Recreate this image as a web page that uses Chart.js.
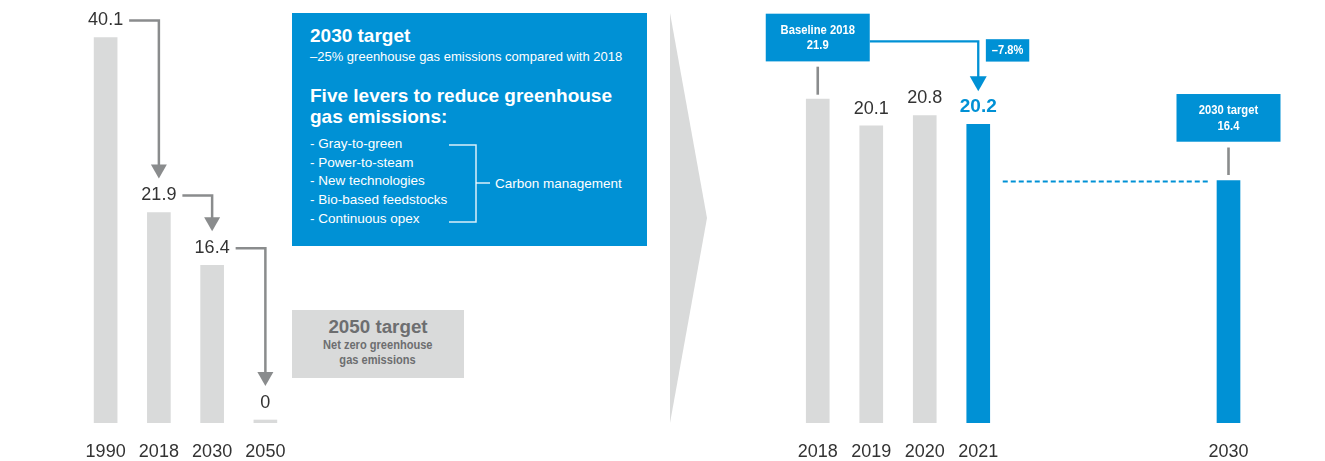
<!DOCTYPE html>
<html>
<head>
<meta charset="utf-8">
<script src="https://cdn.jsdelivr.net/npm/chart.js@4.4.1/dist/chart.umd.min.js"></script>
<style>
  body { margin: 0; width: 1325px; height: 461px; position: relative; overflow: hidden; background: #fff;
         font-family: 'Liberation Sans', Arial, Helvetica, sans-serif; }
  canvas { position: absolute; left: 0; top: 0; }
  .box { position: absolute; }
  .line { position: absolute; white-space: nowrap; line-height: 1; }
  #goal2030 { left: 292px; top: 13px; width: 355px; height: 233px; background: #0091d5; color: #fff; }
  #goal2050 { left: 292px; top: 310px; width: 172px; height: 68px; background: #d9dada; color: #6d6e70; }
  #goal2050 .line { left: 0; width: 100%; text-align: center; }
  .narrow { display: inline-block; transform: scaleX(0.82); font-weight: bold; }
  #chevron { position: absolute; left: 670px; top: 13px; width: 37px; height: 410px; background: #d9dada;
             clip-path: polygon(0 0, 100% 50%, 0 100%); }
</style>
</head>
<body>

<div id="goal2030" class="box">
  <div class="line" style="left:18px; top:12.6px; font-size:19px; font-weight:bold;">2030 target</div>
  <div class="line" style="left:18px; top:37px; font-size:13px;">–25% greenhouse gas emissions compared with 2018</div>
  <div class="line" style="left:18px; top:72.6px; font-size:19px; font-weight:bold;">Five levers to reduce greenhouse</div>
  <div class="line" style="left:18px; top:94px; font-size:19px; font-weight:bold;">gas emissions:</div>
  <div class="line" style="left:18px; top:124px; font-size:13.5px;">- Gray-to-green</div>
  <div class="line" style="left:18px; top:142.6px; font-size:13.5px;">- Power-to-steam</div>
  <div class="line" style="left:18px; top:161.3px; font-size:13.5px;">- New technologies</div>
  <div class="line" style="left:18px; top:179.8px; font-size:13.5px;">- Bio-based feedstocks</div>
  <div class="line" style="left:18px; top:198.5px; font-size:13.5px;">- Continuous opex</div>
  <svg width="355" height="233" style="position:absolute;left:0;top:0">
    <polyline points="157,132 184,132 184,209 157,209" fill="none" stroke="rgba(255,255,255,0.85)" stroke-width="1.5"/>
    <line x1="184" y1="170" x2="198" y2="170" stroke="rgba(255,255,255,0.85)" stroke-width="1.5"/>
  </svg>
  <div class="line" style="left:203px; top:163.6px; font-size:13.5px;">Carbon management</div>
</div>

<div id="goal2050" class="box">
  <div class="line" style="top:8.3px; font-size:18.8px; font-weight:bold;">2050 target</div>
  <div class="line" style="top:27.6px; font-size:13.5px;"><span class="narrow">Net zero greenhouse</span></div>
  <div class="line" style="top:42.6px; font-size:13.5px;"><span class="narrow">gas emissions</span></div>
</div>

<div id="chevron"></div>

<canvas id="historyChart" width="1325" height="461"></canvas>
<canvas id="recentChart" width="1325" height="461"></canvas>
<canvas id="targetChart" width="1325" height="461"></canvas>

<script>
// Datos del gráfico
const historyYears = ['1990', '2018', '2030', '2050'];
const historyValues = [40.1, 21.9, 16.4, 0];
const recentYears = ['2018', '2019', '2020', '2021'];
const recentValues = [21.9, 20.1, 20.8, 20.2];
const targetYears = ['2030'];
const targetValues = [16.4];
const baselineText = ['Baseline 2018', '21.9'];
const targetText = ['2030 target', '16.4'];
const changeText = '–7.8%';

const FONT = "'Liberation Sans', Arial, Helvetica, sans-serif";
const BLUE = '#0091d5';
const BAR_GRAY = '#d9dada';
const LINE_GRAY = '#8a8c8d';
const TEXT = '#333333';

// Texto condensado (escala horizontal)
function narrowText(ctx, text, x, y, size) {
    ctx.save();
    ctx.font = 'bold ' + size + 'px ' + FONT;
    ctx.translate(x, y);
    ctx.scale(0.82, 1);
    ctx.textAlign = 'center';
    ctx.textBaseline = 'alphabetic';
    ctx.fillText(text, 0, 0);
    ctx.restore();
}

// Flecha: horizontal y luego hacia abajo
function arrowDown(ctx, x0, y0, x1, tipY, color, width, headW, headH) {
    ctx.save();
    ctx.strokeStyle = color;
    ctx.fillStyle = color;
    ctx.lineWidth = width;
    ctx.lineJoin = 'miter';
    ctx.beginPath();
    ctx.moveTo(x0, y0);
    ctx.lineTo(x1, y0);
    ctx.lineTo(x1, tipY - headH + 1);
    ctx.stroke();
    ctx.beginPath();
    ctx.moveTo(x1 - headW / 2, tipY - headH);
    ctx.lineTo(x1 + headW / 2, tipY - headH);
    ctx.lineTo(x1, tipY);
    ctx.closePath();
    ctx.fill();
    ctx.restore();
}

function labelBox(ctx, lines, cx, top, w, h) {
    ctx.save();
    ctx.fillStyle = BLUE;
    ctx.fillRect(cx - w / 2, top, w, h);
    ctx.fillStyle = '#fff';
    narrowText(ctx, lines[0], cx, top + 20, 13.7);
    narrowText(ctx, lines[1], cx, top + 35.5, 13.7);
    ctx.restore();
}

function scaleOptions(yMax) {
    return {
        x: {
            grid: { display: false, drawTicks: false },
            border: { display: false },
            ticks: { font: { size: 18, family: FONT }, color: TEXT, padding: 18 },
            afterFit: (scale) => { scale.height = 38; }
        },
        y: { display: false, min: 0, max: yMax }
    };
}

function baseOptions(padding, yMax) {
    return {
        responsive: false,
        animation: false,
        devicePixelRatio: 1,
        events: [],
        layout: { padding: padding },
        plugins: { legend: { display: false }, tooltip: { enabled: false } },
        scales: scaleOptions(yMax)
    };
}

// Gráfico histórico con flechas
const historyNotes = {
    id: 'historyNotes',
    afterDatasetsDraw(chart) {
        const ctx = chart.ctx;
        const bars = chart.getDatasetMeta(0).data;
        ctx.save();
        ctx.font = '18px ' + FONT;
        ctx.fillStyle = TEXT;
        ctx.textAlign = 'center';
        ctx.textBaseline = 'alphabetic';
        const info = bars.map((bar, i) => {
            const text = String(historyValues[i]);
            const base = bar.y - 12.5;
            ctx.fillText(text, bar.x, base);
            return { x: bar.x, base: base, w: ctx.measureText(text).width };
        });
        ctx.restore();
        for (let i = 0; i < info.length - 1; i++) {
            const a = info[i], b = info[i + 1];
            arrowDown(ctx, a.x + a.w / 2 + 6, a.base - 4.5, b.x, b.base - 21.5, LINE_GRAY, 2.5, 16, 14);
        }
    }
};

new Chart(document.getElementById('historyChart'), {
    type: 'bar',
    data: {
        labels: historyYears,
        datasets: [{ data: historyValues, backgroundColor: BAR_GRAY, barThickness: 23, minBarLength: 3 }]
    },
    options: baseOptions({ left: 79, right: 1033, top: 0, bottom: 0 }, 44),
    plugins: [historyNotes]
});

// Gráfico 2018-2021
const recentNotes = {
    id: 'recentNotes',
    afterDatasetsDraw(chart) {
        const ctx = chart.ctx;
        const bars = chart.getDatasetMeta(0).data;
        const last = bars.length - 1;
        ctx.save();
        ctx.textAlign = 'center';
        ctx.textBaseline = 'alphabetic';
        bars.forEach((bar, i) => {
            if (i === 0) return;
            if (i === last) {
                ctx.font = 'bold 19px ' + FONT;
                ctx.fillStyle = BLUE;
            } else {
                ctx.font = '18px ' + FONT;
                ctx.fillStyle = TEXT;
            }
            ctx.fillText(String(recentValues[i]), bar.x, bar.y - 12);
        });

        // Caja de referencia 2018
        const first = bars[0];
        const boxTop = first.y - 85.5;
        labelBox(ctx, baselineText, first.x, boxTop, 104, 47.7);
        ctx.strokeStyle = LINE_GRAY;
        ctx.lineWidth = 2.6;
        ctx.beginPath();
        ctx.moveTo(first.x, first.y - 32.5);
        ctx.lineTo(first.x, first.y - 4.5);
        ctx.stroke();

        // Flecha al último año
        const lb = bars[last];
        arrowDown(ctx, first.x + 52, boxTop + 27.7, lb.x, lb.y - 33, BLUE, 2.3, 17, 15);

        // Variación
        ctx.fillStyle = BLUE;
        ctx.fillRect(lb.x + 7.6, boxTop + 25.5, 43.4, 22.4);
        ctx.fillStyle = '#fff';
        narrowText(ctx, changeText, lb.x + 7.6 + 21.7, boxTop + 40.5, 13.5);
        ctx.restore();
    }
};

const recentChart = new Chart(document.getElementById('recentChart'), {
    type: 'bar',
    data: {
        labels: recentYears,
        datasets: [{
            data: recentValues,
            backgroundColor: recentValues.map((v, i) => i === recentValues.length - 1 ? BLUE : BAR_GRAY),
            barThickness: 23
        }]
    },
    options: baseOptions({ left: 791, right: 320, top: 9, bottom: 0 }, 28),
    plugins: [recentNotes]
});

// Gráfico objetivo 2030
const targetNotes = {
    id: 'targetNotes',
    afterDatasetsDraw(chart) {
        const ctx = chart.ctx;
        const bar = chart.getDatasetMeta(0).data[0];
        const prevBars = recentChart.getDatasetMeta(0).data;
        const prev = prevBars[prevBars.length - 1];
        const y = chart.scales.y.getPixelForValue(targetValues[0]) + 1;
        ctx.save();
        // Línea discontinua
        ctx.strokeStyle = BLUE;
        ctx.lineWidth = 2;
        ctx.setLineDash([5, 3]);
        ctx.beginPath();
        ctx.moveTo(prev.x + 11.5 + 13, y);
        ctx.lineTo(bar.x - 11.5 - 9, y);
        ctx.stroke();
        ctx.setLineDash([]);

        const boxTop = bar.y - 86.5;
        labelBox(ctx, targetText, bar.x, boxTop, 104, 47.7);
        ctx.strokeStyle = LINE_GRAY;
        ctx.lineWidth = 2.6;
        ctx.beginPath();
        ctx.moveTo(bar.x, bar.y - 33);
        ctx.lineTo(bar.x, bar.y - 5.5);
        ctx.stroke();
        ctx.restore();
    }
};

new Chart(document.getElementById('targetChart'), {
    type: 'bar',
    data: {
        labels: targetYears,
        datasets: [{ data: targetValues, backgroundColor: BLUE, barThickness: 23 }]
    },
    options: baseOptions({ left: 1202, right: 70, top: 9, bottom: 0 }, 28),
    plugins: [targetNotes]
});
</script>
</body>
</html>
